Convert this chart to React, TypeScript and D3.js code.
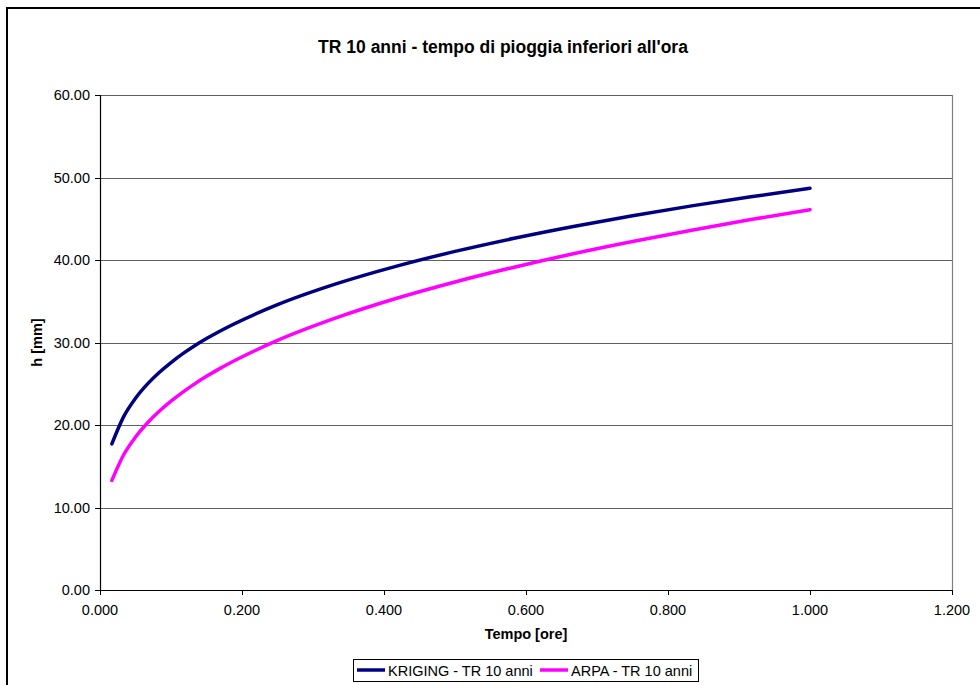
import React, { useMemo } from "react";
import * as d3 from "d3";

// Rain duration in minutes (plotted in hours)
const durationsMin = [1, 2, 3, 4, 5, 6, 7, 8, 9, 10, 15, 20, 25, 30, 35, 40, 45, 50, 55, 60];
const kriging = [17.71, 21.02, 23.24, 24.95, 26.36, 27.57, 28.65, 29.61, 30.48, 31.28, 34.58, 37.13, 39.23, 41.04, 42.63, 44.06, 45.36, 46.56, 47.66, 48.7];
const arpa = [13.28, 16.39, 18.54, 20.24, 21.66, 22.89, 23.99, 24.99, 25.9, 26.74, 30.25, 33.01, 35.33, 37.34, 39.13, 40.76, 42.24, 43.61, 44.9, 46.1];

const xTicks = [0, 0.2, 0.4, 0.6, 0.8, 1.0, 1.2];
const yTicks = [0, 10, 20, 30, 40, 50, 60];

const seriesNames = ["KRIGING - TR 10 anni", "ARPA - TR 10 anni"];
const seriesColors = ["#000080", "#FF00FF"];

const W = 980;
const H = 685;
const plot = { left: 100, top: 95, right: 952, bottom: 590 };
const FONT = "'Liberation Sans', Arial, sans-serif";

export default function App() {
  const x = useMemo(() => d3.scaleLinear().domain([0, 1.2]).range([plot.left, plot.right]), []);
  const y = useMemo(() => d3.scaleLinear().domain([0, 60]).range([plot.bottom, plot.top]), []);

  const line = d3
    .line<[number, number]>()
    .x((d) => x(d[0]))
    .y((d) => y(d[1]))
    .curve(d3.curveMonotoneX);

  const series = [kriging, arpa].map((vals) =>
    vals.map((v, i) => [durationsMin[i] / 60, v] as [number, number])
  );

  return (
    <svg
      width={W}
      height={H}
      style={{ position: "absolute", left: 0, top: 0, background: "#fff" }}
      fontFamily={FONT}
    >
      <rect x={0} y={0} width={W} height={H} fill="#fff" />
      {/* chart frame */}
      <rect x={7} y={8} width={1000} height={1000} fill="none" stroke="#000" strokeWidth={2} />

      <text x={503} y={53} textAnchor="middle" fontSize={17.5} fontWeight="bold" fill="#000">
        TR 10 anni - tempo di pioggia inferiori all'ora
      </text>

      {/* horizontal gridlines */}
      {yTicks.slice(1).map((t) => (
        <line
          key={"g" + t}
          x1={plot.left}
          x2={plot.right}
          y1={Math.round(y(t)) + 0.5}
          y2={Math.round(y(t)) + 0.5}
          stroke="#606060"
          strokeWidth={1}
        />
      ))}
      {/* right border of plot area */}
      <line
        x1={plot.right + 0.5}
        x2={plot.right + 0.5}
        y1={plot.top}
        y2={plot.bottom}
        stroke="#808080"
        strokeWidth={1.2}
      />

      {/* y axis */}
      <line x1={plot.left + 0.5} x2={plot.left + 0.5} y1={plot.top} y2={plot.bottom + 1} stroke="#000" strokeWidth={1.2} />
      {yTicks.map((t) => (
        <g key={"y" + t}>
          <line
            x1={plot.left - 5}
            x2={plot.left}
            y1={Math.round(y(t)) + 0.5}
            y2={Math.round(y(t)) + 0.5}
            stroke="#000"
          />
          <text x={plot.left - 10} y={y(t) + 5} textAnchor="end" fontSize={14.5} fill="#000">
            {t.toFixed(2)}
          </text>
        </g>
      ))}

      {/* x axis */}
      <line x1={plot.left} x2={plot.right + 1} y1={plot.bottom + 0.5} y2={plot.bottom + 0.5} stroke="#000" strokeWidth={1.2} />
      {xTicks.map((t) => (
        <g key={"x" + t}>
          <line
            x1={Math.round(x(t)) + 0.5}
            x2={Math.round(x(t)) + 0.5}
            y1={plot.bottom}
            y2={plot.bottom + 5}
            stroke="#000"
          />
          <text x={x(t)} y={615} textAnchor="middle" fontSize={14.5} fill="#000">
            {t.toFixed(3)}
          </text>
        </g>
      ))}

      <text x={526} y={639} textAnchor="middle" fontSize={14.5} fontWeight="bold" fill="#000">
        Tempo [ore]
      </text>
      <text
        transform={`translate(42, ${(plot.top + plot.bottom) / 2}) rotate(-90)`}
        textAnchor="middle"
        fontSize={14.5}
        fontWeight="bold"
        fill="#000"
      >
        h [mm]
      </text>

      {/* data lines */}
      {series.map((s, i) => (
        <path
          key={"s" + i}
          d={line(s) || ""}
          fill="none"
          stroke={seriesColors[i]}
          strokeWidth={3.5}
          strokeLinejoin="round"
          strokeLinecap="round"
        />
      ))}

      {/* legend */}
      <rect x={353.5} y={659.5} width={345} height={22} fill="#fff" stroke="#000" strokeWidth={1} />
      {seriesNames.map((name, i) => {
        const x0 = i === 0 ? 357 : 540;
        return (
          <g key={"l" + i}>
            <line x1={x0} x2={x0 + 28} y1={670} y2={670} stroke={seriesColors[i]} strokeWidth={3.5} />
            <text x={x0 + 31} y={675.5} fontSize={14.5} fill="#000">
              {name}
            </text>
          </g>
        );
      })}
    </svg>
  );
}
